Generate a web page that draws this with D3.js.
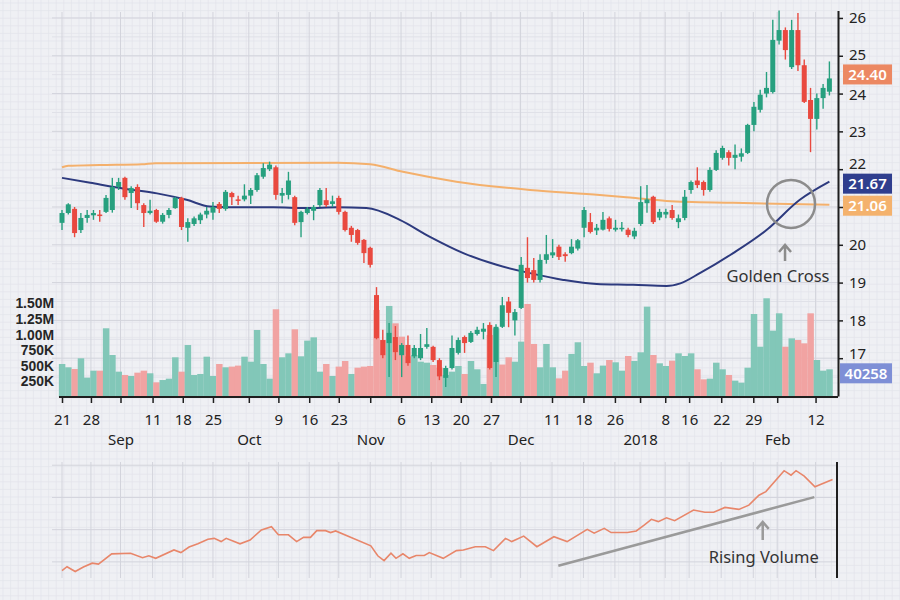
<!DOCTYPE html>
<html><head><meta charset="utf-8">
<script src="https://cdn.jsdelivr.net/npm/d3@7"></script>
<style>
html,body{margin:0;padding:0;background:#eff0f4;}
svg{display:block;font-family:"Noto Sans","Open Sans",sans-serif;}
</style></head><body>
<svg id="chart" width="900" height="600"></svg>
<script>
// ---------- DATA ----------
const opens  = [20.58,20.84,20.95,20.39,20.71,20.78,20.8,20.87,20.92,21.53,21.77,21.37,21.53,21.05,20.84,20.92,20.61,20.79,20.97,21.24,
                20.45,20.55,20.65,20.8,20.85,21.08,20.95,21.37,21.2,21.2,21.3,21.45,21.8,22.0,22.05,21.3,21.32,21.26,20.6,20.84,
                20.9,21.05,21.18,21.08,21.24,20.87,20.45,20.39,20.13,19.92,18.67,17.48,17.4,17.56,17.08,17.35,17.05,17.0,17.3,17.3,
                16.95,16.48,16.74,17.14,17.56,17.43,17.64,17.7,17.88,16.9,17.83,18.5,18.0,18.33,19.39,19.33,19.07,19.6,19.72,19.95,
                19.75,19.78,19.9,20.45,20.6,20.38,20.4,20.7,20.4,20.42,20.4,20.22,20.55,21.1,21.27,20.72,20.8,20.92,20.6,20.71,
                21.45,21.7,21.66,21.45,21.98,22.3,22.45,22.3,22.33,22.43,23.17,23.57,24.0,24.04,25.4,25.68,24.7,25.68,24.75,23.83,
                23.33,23.88,24.05];
const highs  = [20.92,21.1,21.0,20.84,20.92,20.92,20.92,21.32,21.77,21.77,21.8,21.55,21.6,21.1,21.19,20.95,20.84,20.97,21.27,21.27,
                20.7,20.75,20.85,21.0,21.13,21.13,21.45,21.4,21.3,21.6,21.5,21.9,22.16,22.2,22.1,21.5,21.93,21.3,20.9,21.0,
                21.05,21.5,21.5,21.3,21.3,20.9,20.5,20.42,20.15,19.95,18.88,17.75,17.93,17.85,17.4,17.6,17.35,17.64,17.8,17.33,
                17.0,16.8,17.6,17.55,17.6,17.72,17.83,17.93,17.95,17.9,18.62,18.62,18.3,19.68,20.2,19.65,19.75,20.26,20.15,20.0,
                19.8,20.15,20.15,21.0,20.84,20.55,20.87,20.75,20.66,20.6,20.45,20.45,21.55,21.58,21.3,20.95,20.95,21.05,20.8,21.45,
                21.7,22.05,21.7,22.05,22.5,22.62,22.5,22.65,22.55,23.2,23.78,24.1,24.57,25.95,26.2,25.75,25.95,26.13,24.9,24.15,
                24.0,24.25,24.85];
const lows   = [20.39,20.8,20.2,20.31,20.58,20.66,20.61,20.84,20.85,21.45,21.19,20.97,20.92,20.47,20.8,20.58,20.56,20.7,20.95,20.39,
                20.08,20.5,20.55,20.7,20.66,20.84,20.9,21.05,21.05,21.15,21.08,21.4,21.75,21.95,21.19,21.1,21.2,20.52,20.2,20.8,
                20.65,21.0,21.0,21.0,20.8,20.35,20.08,20.0,19.52,19.4,17.5,17.0,16.5,16.95,16.5,16.8,17.0,16.95,17.25,16.9,
                16.42,16.24,16.7,17.1,17.14,17.4,17.6,17.5,16.7,16.5,17.8,17.82,17.6,18.3,19.0,19.0,19.0,19.5,19.65,19.6,
                19.55,19.75,19.85,20.2,20.3,20.26,20.38,20.35,20.35,20.35,20.2,20.15,20.5,20.85,20.55,20.65,20.7,20.66,20.44,20.65,
                21.35,21.5,21.3,21.4,21.95,22.25,22.1,22.0,22.2,22.4,23.0,23.5,23.9,24.0,25.3,24.9,24.65,24.6,23.75,22.45,
                23.05,23.6,23.95];
const closes = [20.84,21.07,20.31,20.71,20.79,20.84,20.76,21.24,21.53,21.66,21.26,21.5,21.1,20.84,20.9,20.61,20.79,20.92,21.24,20.47,
                20.6,20.7,20.8,20.9,21.0,20.95,21.4,21.26,21.17,21.3,21.45,21.84,22.03,22.12,21.32,21.37,21.7,20.58,20.87,20.95,
                21.0,21.45,21.05,21.15,20.87,20.39,20.26,20.05,19.78,19.47,17.53,17.08,17.67,17.16,17.35,16.87,17.27,17.27,17.37,16.95,
                16.52,16.74,17.27,17.48,17.4,17.67,17.75,17.78,16.74,17.83,18.4,18.2,18.22,19.47,19.12,19.07,19.6,19.75,19.8,19.68,
                19.7,19.95,20.12,20.92,20.34,20.45,20.66,20.42,20.45,20.45,20.26,20.37,21.13,21.2,20.6,20.87,20.87,20.71,20.7,21.27,
                21.66,21.58,21.45,21.98,22.43,22.56,22.3,22.38,22.42,23.17,23.65,23.97,24.15,25.42,25.68,25.15,25.68,24.75,23.78,23.33,
                23.88,24.15,24.4];
// volume in thousands, and bar colour direction (1 = teal, 0 = salmon)
const volumes = [529,476,449,620,310,422,422,1101,673,406,353,337,390,422,380,235,272,294,636,406,
                 833,353,369,646,337,529,476,487,503,646,566,1074,529,294,1406,636,700,1085,652,903,
                 956,406,529,337,487,577,369,470,487,497,1395,913,1459,1181,967,652,673,566,550,513,
                 470,353,406,497,369,577,444,208,994,1101,520,636,566,887,1491,850,476,850,476,299,
                 422,690,877,497,550,380,503,593,556,422,657,577,716,1448,673,540,497,582,700,657,
                 700,444,283,294,550,444,353,262,230,470,1330,806,1582,1063,1341,806,940,913,860,1341,
                 593,422,444];
const volUp   = [1,1,0,1,1,1,0,1,1,1,0,1,0,0,1,0,1,1,1,0,
                 1,1,1,1,1,0,1,0,0,1,1,1,1,1,0,1,1,0,1,1,
                 1,1,0,1,0,0,1,0,0,0,0,0,1,0,0,0,1,1,1,0,
                 0,1,1,1,0,1,1,1,0,1,0,0,1,1,0,0,1,1,1,0,
                 0,1,1,1,0,1,1,0,1,1,0,1,1,1,0,1,1,0,1,1,
                 1,0,0,1,1,1,0,1,1,1,1,1,1,1,1,0,1,0,0,0,
                 1,1,1];
// 50-day moving average (trading-day index, price)
const maFastIdx = [0,4.5,9.7,15.1,19.8,23.5,26.2,33.6,38.9,43.7,48.4,53.7,58.5,63.8,69.1,74.4,79.7,85,90.8,96.1,98.3,101.4,106.7,112,117.3,122];
const maFastVal = [21.77,21.64,21.49,21.36,21.19,21.01,20.99,20.99,20.97,20.99,20.97,20.66,20.21,19.78,19.47,19.25,19.07,18.96,18.94,18.91,18.98,19.25,19.78,20.39,21.19,21.67];
// 200-day moving average
const maSlowIdx = [0,1,6,12.7,14.8,43.8,49,54.2,62.7,74.4,85.5,90.3,96.1,106.7,122];
const maSlowVal = [22.05,22.09,22.11,22.13,22.16,22.17,22.13,21.93,21.67,21.45,21.32,21.25,21.16,21.11,21.06];
// lower pane volume indicator (index, value)
const obvIdx = [0,0.8,2.1,3.4,4.8,5.8,7.9,10.9,12.8,13.8,14.9,17.8,18.9,20.2,21.6,23.2,24.2,25.3,26.1,28.3,29.9,31.7,33.3,34.4,36,37.3,38.4,39.5,40.5,41.9,42.7,43.5,
                49.1,50.2,51.2,52.3,53.1,54.2,55.2,56.3,57.6,58.4,60.6,62.7,63.8,65.7,67.3,68.6,70.5,71.5,73.4,75.5,78.2,80.3,83.5,84.6,86.2,87.3,89.9,91.3,92.6,93.7,94.8,96.1,97.4,
                100.4,102.2,103.6,105.4,107.6,109.2,110.8,111.9,114.8,115.9,116.7,118,119.7,122.5];
const obvVal = [-0.27,-0.15,-0.30,-0.16,-0.04,-0.07,0.25,0.27,0.13,0.19,0.11,0.37,0.29,0.46,0.56,0.70,0.73,0.63,0.73,0.56,0.68,0.99,1.09,0.84,0.84,0.63,0.76,0.76,0.97,0.97,0.91,0.96,
                0.50,0.19,0.04,0.27,0.11,0.25,0.11,0.20,0.20,0.29,0.11,0.35,0.37,0.47,0.47,0.35,0.73,0.63,0.80,0.47,0.78,0.63,1.01,0.89,1.04,0.91,0.91,0.96,1.15,1.32,1.25,1.37,1.28,
                1.61,1.54,1.54,1.69,1.63,1.76,2.07,2.18,2.83,2.69,2.83,2.66,2.33,2.56];
// axis ticks
const dayTickLabels = ["21","28","11","18","25","9","16","23","6","13","20","27","11","18","26","8","16","22","29","12"];
const dayTickIndex  = [0,4.6,14.4,19.2,24,34.4,39.3,44,53.9,58.7,63.4,68.2,77.9,82.9,87.9,95.9,99.7,104.8,109.9,119.8];
const monthLabels   = ["Sep","Oct","Nov","Dec","2018","Feb"];
const monthIndex    = [9.3,29.7,49,72.9,91.9,113.7];
const priceTicks    = [17,18,19,20,21,22,23,24,25,26];
const volTicks      = [250,500,750,1000,1250,1500];
const volTickLabels = ["250K","500K","750K","1.00M","1.25M","1.50M"];
const volLastLabel  = "40258";
// annotations (data space)
const crossIdx = 115.9, crossPrice = 21.08;
const trendFrom = [78.9,-0.12], trendTo = [119.6,2.01];
const risingIdx = 111.4;

// ---------- CHART ----------
const W = 900, H = 600, AX = 838, BASE = 397;
const svg = d3.select("#chart");
const N = opens.length;
const x  = d3.scaleLinear().domain([0, N-1]).range([62, 829.4]);
const y  = d3.scaleLinear().domain([16, 26.2]).range([396, 10.4]);
const yv = d3.scaleLinear().domain([0, 1500]).range([BASE, 303.4]);
const yo = d3.scaleLinear().domain([-0.5, 3.1]).range([578, 462]);
const step = x(1) - x(0);

svg.append("rect").attr("width", W).attr("height", H).attr("fill", "#eff0f4");
// fine paper grid
const fine = svg.append("g").attr("stroke", "#e3e4eb").attr("stroke-width", 0.7);
d3.range(3, W, 7.6).forEach(v => fine.append("line").attr("x1", v).attr("x2", v).attr("y1", 0).attr("y2", H));
d3.range(3, H, 7.6).forEach(v => fine.append("line").attr("y1", v).attr("y2", v).attr("x1", 0).attr("x2", W));

// major grid in price pane
const grid = svg.append("g").attr("stroke", "#d3d4dc").attr("stroke-width", 1);
priceTicks.concat([16.5,17.5,18.5,19.5,20.5,21.5,22.5,23.5,24.5,25.5]).forEach(p => {
  grid.append("line").attr("x1", 52).attr("x2", AX).attr("y1", y(p)).attr("y2", y(p))
    .attr("stroke", Number.isInteger(p) ? "#d3d4dc" : "#e0e1e8");
});
dayTickIndex.concat(monthIndex).forEach(t => {
  grid.append("line").attr("x1", x(t)).attr("x2", x(t)).attr("y1", 12).attr("y2", BASE);
  grid.append("line").attr("x1", x(t)).attr("x2", x(t)).attr("y1", 462).attr("y2", 578);
});
// lower pane horizontal grid
[0,1,2,3].forEach(v => grid.append("line").attr("x1", 52).attr("x2", AX).attr("y1", yo(v)).attr("y2", yo(v)));

// volume bars
svg.append("g").selectAll("rect").data(volumes).join("rect")
  .attr("x", (d, i) => x(i) - step / 2)
  .attr("width", step + 0.2)
  .attr("y", d => yv(d))
  .attr("height", d => BASE - yv(d))
  .attr("fill", (d, i) => volUp[i] ? "#82c7b8" : "#f1a3a2");

// moving averages
const lineGen = d3.line().x(d => x(d[0])).y(d => y(d[1])).curve(d3.curveMonotoneX);
svg.append("path").datum(d3.zip(maSlowIdx, maSlowVal)).attr("d", lineGen)
  .attr("fill", "none").attr("stroke", "#f4b06c").attr("stroke-width", 2);
svg.append("path").datum(d3.zip(maFastIdx, maFastVal)).attr("d", lineGen)
  .attr("fill", "none").attr("stroke", "#2d3a7e").attr("stroke-width", 2);

// candles
const up = "#27a07f", down = "#e9493f";
const cg = svg.append("g");
const cand = cg.selectAll("g").data(d3.range(N)).join("g");
cand.append("line")
  .attr("x1", i => x(i)).attr("x2", i => x(i))
  .attr("y1", i => y(highs[i])).attr("y2", i => y(lows[i]))
  .attr("stroke", i => closes[i] >= opens[i] ? up : down).attr("stroke-width", 1.4);
cand.append("rect")
  .attr("x", i => x(i) - 2.5).attr("width", 5)
  .attr("y", i => y(Math.max(opens[i], closes[i])))
  .attr("height", i => Math.max(1.5, Math.abs(y(opens[i]) - y(closes[i]))))
  .attr("fill", i => closes[i] >= opens[i] ? up : down);

// right price axis
const ra = svg.append("g").attr("transform", `translate(${AX},0)`)
  .call(d3.axisRight(y).tickValues(priceTicks).tickSize(5).tickSizeOuter(0).tickFormat(d3.format("d")));
ra.select(".domain").attr("stroke", "#1e1e1e").attr("stroke-width", 2);
ra.selectAll(".tick line").attr("stroke", "#1e1e1e").attr("stroke-width", 1.5);
ra.selectAll(".tick text").attr("x", 11).attr("font-size", 15).attr("fill", "#222").attr("font-family", "Noto Sans");

// bottom axis
const ba = svg.append("g").attr("transform", `translate(0,${BASE})`)
  .call(d3.axisBottom(x).tickValues(dayTickIndex).tickSize(6).tickSizeOuter(0).tickFormat((d, i) => dayTickLabels[i]));
ba.select(".domain").remove();
ba.selectAll(".tick line").attr("stroke", "#1e1e1e").attr("stroke-width", 1.5);
ba.selectAll(".tick text").attr("y", 17).attr("font-size", 15).attr("fill", "#222").attr("font-family", "Noto Sans");
const ma = svg.append("g").attr("transform", `translate(0,${BASE})`)
  .call(d3.axisBottom(x).tickValues(monthIndex).tickSize(6).tickSizeOuter(0).tickFormat((d, i) => monthLabels[i]));
ma.select(".domain").remove();
ma.selectAll(".tick line").attr("stroke", "#1e1e1e").attr("stroke-width", 1.5);
ma.selectAll(".tick text").attr("y", 37).attr("font-size", 15).attr("fill", "#222").attr("font-family", "Noto Sans");
svg.append("line").attr("x1", x(0) - 3).attr("x2", AX).attr("y1", BASE).attr("y2", BASE)
  .attr("stroke", "#1e1e1e").attr("stroke-width", 2);

// volume labels on the left (compact font so the tightly stacked lines do not collide)
svg.append("g").selectAll("text").data(volTicks).join("text")
  .attr("x", 54).attr("y", d => yv(d)).attr("dy", "0.36em").attr("text-anchor", "end")
  .attr("font-family", "Liberation Sans").attr("font-size", 13.9).attr("font-weight", 700)
  .attr("fill", "#262626").text((d, i) => volTickLabels[i]);

// value tags on the right (they sit over the axis labels, as in the reference)
const tags = [];
function tag(yy, fill, txt, x0) {
  tags.push([yy - 10, yy + 10]);
  svg.append("rect").attr("x", x0).attr("y", yy - 10).attr("width", 892 - x0).attr("height", 20).attr("fill", fill);
  svg.append("text").attr("x", (x0 + 892) / 2).attr("y", yy).attr("dy", "0.36em").attr("text-anchor", "middle")
    .attr("font-size", 15).attr("font-weight", 600).attr("fill", "#fff").text(txt);
}
const lastFast = maFastVal[maFastVal.length-1], lastSlow = maSlowVal[maSlowVal.length-1];
tag(y(closes[N-1]) - 4, "#ec8862", closes[N-1].toFixed(2), 843);
tag(y(lastFast) + 2, "#2f3e8e", lastFast.toFixed(2), 843);
tag(y(lastSlow) + 1, "#f4b26d", lastSlow.toFixed(2), 843);
tag(yv(volumes[N-1]) + 4, "#7e8fd6", volLastLabel, 840);
// axis labels hidden behind a tag are not drawn; those touching one are nudged clear of it
ra.selectAll(".tick").each(function(d) {
  const ty = y(d);
  const t = d3.select(this).select("text");
  tags.forEach(([a, b]) => {
    if (ty > a - 2 && ty < b + 2) t.remove();
    else if (ty <= a - 2 && ty > a - 10) t.attr("dy", (0.32 - (ty - (a - 10)) / 15) + "em");
    else if (ty >= b + 2 && ty < b + 10) t.attr("dy", (0.32 + ((b + 10) - ty) / 15) + "em");
  });
});

// golden cross annotation
const cx = x(crossIdx), cy = y(crossPrice);
svg.append("circle").attr("cx", cx).attr("cy", cy).attr("r", 24)
  .attr("fill", "none").attr("stroke", "#8c8c8c").attr("stroke-width", 2.5);
const ax1 = cx - 6;
svg.append("path").attr("d", `M${ax1},${cy + 57} L${ax1},${cy + 41} M${ax1 - 6},${cy + 48} L${ax1},${cy + 41} L${ax1 + 6},${cy + 48}`)
  .attr("fill", "none").attr("stroke", "#8c8c8c").attr("stroke-width", 2.5);
svg.append("text").attr("x", cx - 13).attr("y", cy + 78).attr("text-anchor", "middle")
  .attr("font-size", 16.5).attr("fill", "#333").text("Golden Cross");

// lower pane
svg.append("path").datum(d3.zip(obvIdx, obvVal))
  .attr("d", d3.line().x(d => x(d[0])).y(d => yo(d[1])))
  .attr("fill", "none").attr("stroke", "#e8866a").attr("stroke-width", 1.6);
svg.append("line").attr("x1", x(trendFrom[0])).attr("y1", yo(trendFrom[1]))
  .attr("x2", x(trendTo[0])).attr("y2", yo(trendTo[1])).attr("stroke", "#9a9a9a").attr("stroke-width", 2.5);
svg.append("line").attr("x1", AX - 1).attr("x2", AX - 1).attr("y1", 462).attr("y2", 578)
  .attr("stroke", "#1e1e1e").attr("stroke-width", 2);
const rx = x(risingIdx);
svg.append("path").attr("d", `M${rx},${yo(0.68)} L${rx},${yo(1.24)} M${rx - 6},${yo(1.24) + 7} L${rx},${yo(1.24)} L${rx + 6},${yo(1.24) + 7}`)
  .attr("fill", "none").attr("stroke", "#9a9a9a").attr("stroke-width", 2.5);
svg.append("text").attr("x", rx + 1).attr("y", yo(-0.03)).attr("text-anchor", "middle")
  .attr("font-size", 16.5).attr("fill", "#333").text("Rising Volume");
</script>
</body></html>
